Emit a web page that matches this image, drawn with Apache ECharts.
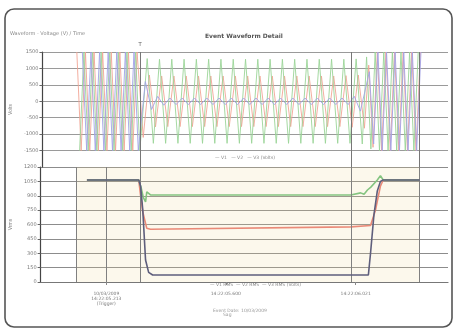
<!DOCTYPE html>
<html><head><meta charset="utf-8">
<script src="https://cdn.jsdelivr.net/npm/echarts@6/dist/echarts.min.js"></script>
<style>html,body{margin:0;padding:0;background:#fff}#c{width:459px;height:332px}</style>
</head><body><div id="c"></div>
<script>
// ---- waveform extremes (time ms, value V) ----
const waveA_t = [112,126,140,154,168,182,196,210,224,238,252,266,280,294,308,
 328,348,368,388,408,428,448,468,488,508,528,548,568,588,608,628,648,668,688,708,728,748,768,788,808,828,848,868,888,908,928,948,968,988,1008,1028,1048,
 1062,1076,1090,1104,1118,1132,1146,1160,1174,1188,1202,1216,1230];
const waveA_v = [1500,-1500,1500,-1500,1500,-1500,1500,-1500,1500,-1500,1500,-1500,1500,-1500,1500,
 -1100,800,-780,770,-770,770,-770,770,-770,770,-770,770,-770,770,-770,770,-770,770,-770,770,-770,770,-770,770,-770,770,-770,770,-770,770,-770,770,-770,780,-790,800,-820,
 1100,-1400,1500,-1500,1500,-1500,1500,-1500,1500,-1500,1500,-1500,1500];
const waveB_t = [121,135,149,163,177,191,205,219,233,247,261,275,289,303,317,
 341,361,381,401,421,441,461,481,501,521,541,561,581,601,621,641,661,681,701,721,741,761,781,801,821,841,861,881,901,921,941,961,981,1001,1021,1041,
 1055,1069,1083,1097,1111,1125,1139,1153,1167,1181,1195,1209,1223];
const waveB_v = [-1500,1500,-1500,1500,-1500,1500,-1500,1500,-1500,1500,-1500,1500,-1500,1500,-1500,
 1300,-1280,1280,-1280,1280,-1280,1280,-1280,1280,-1280,1280,-1280,1280,-1280,1280,-1280,1280,-1280,1280,-1280,1280,-1280,1280,-1280,1280,-1280,1280,-1280,1280,-1280,1280,-1280,1280,-1280,1290,-1300,
 1350,-1450,1500,-1500,1500,-1500,1500,-1500,1500,-1500,1500,-1500,1500];
const waveC_t = [130,144,158,172,186,200,214,228,242,256,270,284,298,312,
 335,355,375,395,415,435,455,475,495,515,535,555,575,595,615,635,655,675,695,715,735,755,775,795,815,835,855,875,895,915,935,955,975,995,1015,1035,
 1064,1078,1092,1106,1120,1134,1148,1162,1176,1190,1204,1218,1232];
const waveC_v = [1500,-1500,1500,-1500,1500,-1500,1500,-1500,1500,-1500,1500,-1500,1500,-1500,
 600,-250,150,-120,100,-100,100,-100,100,-100,100,-100,100,-100,100,-100,100,-100,100,-100,100,-100,100,-100,100,-100,100,-100,100,-100,100,-100,100,-100,150,-300,
 900,-1300,1500,-1500,1500,-1500,1500,-1500,1500,-1500,1500,-1500,1500];

// ---- RMS values ----
const rmsA_t = [150,309,318,324,331,344,356,1005,1069,1085,1101,1110,1228];
const rmsA_v = [1064,1064,1064,900,730,560,550,575,590,750,1000,1064,1064];
const rmsB_t = [150,309,318,326,333,340,344,356,1005,1037,1048,1059,1070,1091,1101,1110,1228];
const rmsB_v = [1064,1064,1064,980,880,835,940,908,908,930,915,960,990,1064,1110,1064,1064];
const rmsC_t = [150,309,318,324,331,340,350,363,1062,1069,1080,1091,1101,1110,1228];
const rmsC_v = [1064,1064,1064,1000,750,230,100,73,73,300,700,950,1050,1064,1064];

// ---- axis / labels ----
const upperTicks = {min:-2000, max:1500, step:500};
const lowerTicks = {min:0, max:1200, step:150};
const xLabelVals = [213, 600, 1021];
const xLabelText = ['10/03/2009\n14:22:05.213\n(Trigger)', '14:22:05.600', '14:22:06.021'];
const upperMarks = [318, 1005, 1228];
const lowerMarks = [115, 213, 324, 1005, 1228];

const zip = (t, v) => t.slice(0, Math.min(t.length, v.length)).map((x, i) => [x, v[i]]);
const colA = '#f2a595', colB = '#9bd597', colC = '#a3a3e6';

const chart = echarts.init(document.getElementById('c'));
const axisLabelStyle = {fontSize:5, color:'#7a7a7a', margin:4, fontFamily:'DejaVu Sans', formatter:v => String(v)};
chart.setOption({
  animation:false,
  backgroundColor:'#fff',
  grid:[
    {left:33, right:11, top:52, height:115},
    {left:33, right:11, top:167, height:115}
  ],
  xAxis:[
    {gridIndex:0, type:'value', min:0, max:1320, axisLine:{show:false}, axisTick:{show:false}, axisLabel:{show:false}, splitLine:{show:false}},
    {gridIndex:1, type:'value', min:0, max:1320, offset:6,
     axisLine:{show:true, lineStyle:{color:'#777', width:1.2}},
     axisTick:{show:true, customValues:xLabelVals, length:3, lineStyle:{color:'#888'}},
     axisLabel:{customValues:xLabelVals, fontSize:4.5, color:'#7a7a7a', lineHeight:5, margin:3, fontFamily:'DejaVu Sans',
       formatter:v => { const i = xLabelVals.indexOf(v); return i >= 0 ? xLabelText[i] : ''; }},
     splitLine:{show:false}}
  ],
  yAxis:[
    {gridIndex:0, type:'value', min:upperTicks.min, max:upperTicks.max, interval:upperTicks.step,
     name:'Volts', nameLocation:'middle', nameGap:20, nameTextStyle:{fontSize:5, color:'#888'},
     axisLine:{show:true, lineStyle:{color:'#444', width:1.2}}, axisTick:{show:true, length:3, lineStyle:{color:'#666'}},
     axisLabel:Object.assign({showMinLabel:false}, axisLabelStyle), splitLine:{lineStyle:{color:'#9a9a9a', width:1}}},
    {gridIndex:1, type:'value', min:lowerTicks.min, max:lowerTicks.max, interval:lowerTicks.step,
     name:'Vrms', nameLocation:'middle', nameGap:20, nameTextStyle:{fontSize:5, color:'#888'},
     axisLine:{show:true, lineStyle:{color:'#444', width:1.2}}, axisTick:{show:true, length:3, lineStyle:{color:'#666'}},
     axisLabel:axisLabelStyle, splitLine:{lineStyle:{color:'#8c8c8c', width:1}}}
  ],
  series:[
    {type:'line', xAxisIndex:0, yAxisIndex:0, data:zip(waveA_t, waveA_v), symbol:'none', lineStyle:{color:colA, width:0.9}, z:3,
     markLine:{silent:true, symbol:'none', lineStyle:{color:'#777', width:1, type:'solid'},
       label:{show:true, position:'end', fontSize:6, color:'#666', formatter:p => p.value === upperMarks[0] ? 'T' : ''},
       data:upperMarks.map(x => ({xAxis:x}))}},
    {type:'line', xAxisIndex:0, yAxisIndex:0, data:zip(waveB_t, waveB_v), symbol:'none', lineStyle:{color:colB, width:0.9}, z:3},
    {type:'line', xAxisIndex:0, yAxisIndex:0, data:zip(waveC_t, waveC_v), symbol:'none', lineStyle:{color:colC, width:0.9}, z:3},
    {type:'line', xAxisIndex:1, yAxisIndex:1, data:zip(rmsA_t, rmsA_v), symbol:'none', lineStyle:{color:'#ea8a78', width:1.6}, z:3,
     markArea:{silent:true, itemStyle:{color:'rgba(240,215,150,0.18)'}, data:[[{xAxis:lowerMarks[0]},{xAxis:lowerMarks[4]}]]},
     markLine:{silent:true, symbol:'none', label:{show:false}, lineStyle:{color:'#808080', width:1, type:'solid'},
       data:lowerMarks.map(x => ({xAxis:x}))}},
    {type:'line', xAxisIndex:1, yAxisIndex:1, data:zip(rmsB_t, rmsB_v), symbol:'none', lineStyle:{color:'#84c480', width:1.6}, z:4},
    {type:'line', xAxisIndex:1, yAxisIndex:1, data:zip(rmsC_t, rmsC_v), symbol:'none', lineStyle:{color:'#5e5e7c', width:1.6}, z:5}
  ],
  graphic:[
    {type:'rect', shape:{x:5, y:9, width:447, height:318, r:9}, style:{fill:null, stroke:'#555', lineWidth:1.6}, z:100},
    {type:'text', left:10, top:31, style:{text:'Waveform - Voltage (V) / Time', fontSize:5, fill:'#888', fontFamily:'DejaVu Sans'}},
    {type:'text', left:205, top:33, style:{text:'Event Waveform Detail', fontSize:6, fontWeight:'bold', fill:'#555', fontFamily:'DejaVu Sans'}},
    {type:'text', left:215, top:155, style:{text:'— V1   — V2   — V3 (Volts)', fontSize:4.5, fill:'#888', fontFamily:'DejaVu Sans'}},
    {type:'text', left:210, top:282, style:{text:'— V1 RMS  — V2 RMS  — V3 RMS (Volts)', fontSize:4.5, fill:'#888', fontFamily:'DejaVu Sans'}},
    {type:'text', left:213, top:308, style:{text:'Event Date: 10/03/2009\n       Sag', fontSize:4.5, lineHeight:4.5, fill:'#999', fontFamily:'DejaVu Sans'}}
  ]
});
</script></body></html>
